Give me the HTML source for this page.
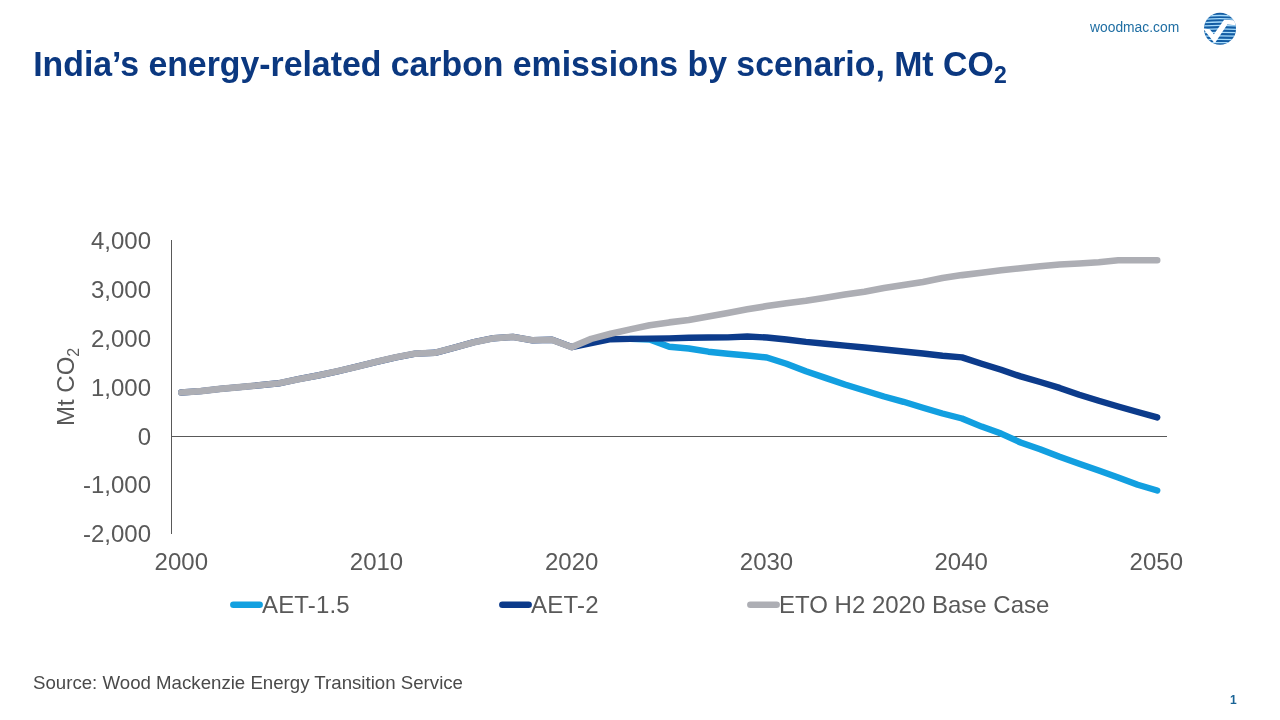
<!DOCTYPE html>
<html lang="en">
<head>
<meta charset="utf-8">
<title>India’s energy-related carbon emissions by scenario</title>
<style>
html,body{margin:0;padding:0;background:#fff;}
body{width:1280px;height:720px;overflow:hidden;position:relative;font-family:"Liberation Sans",Arial,sans-serif;}
svg{position:absolute;left:0;top:0;}
text{font-family:"Liberation Sans",Arial,sans-serif;}
.ax{font-size:24px;fill:#595959;}
.lg{font-size:24px;fill:#595959;}
</style>
</head>
<body>
<svg width="1280" height="720" viewBox="0 0 1280 720">
  <!-- header -->
  <text transform="translate(1090,31.8) scale(0.99,1.05)" font-size="14" fill="#1f6ea3">woodmac.com</text>
  <g id="logo">
    <defs>
      <clipPath id="lc"><circle cx="1220" cy="28.7" r="16"/></clipPath>
    </defs>
    <circle cx="1220" cy="28.7" r="16" fill="#125ca3"/>
    <g clip-path="url(#lc)" stroke="#a8dcfb" stroke-width="1.25" fill="none">
      <path d="M1200,16.6 Q1220,14.4 1240,16.6"/>
      <path d="M1200,19.9 Q1220,17.5 1240,19.9"/>
      <path d="M1200,23.1 Q1220,20.9 1240,23.1"/>
      <path d="M1200,26.3 Q1220,24.4 1240,26.3"/>
      <path d="M1200,29.6 Q1220,28.0 1240,29.6"/>
      <path d="M1200,32.9 Q1220,31.6 1240,32.9"/>
      <path d="M1200,36.3 Q1220,35.4 1240,36.3"/>
      <path d="M1200,39.6 Q1220,39.1 1240,39.6"/>
      <path d="M1200,42.7 Q1220,42.4 1240,42.7"/>
    </g>
    <path clip-path="url(#lc)" d="M1203,28.4 L1209.7,29.3 L1213.9,34.3 L1224.1,19.7 L1234.5,20.3 L1237,25.4 L1227.3,24.5 L1215.3,42.6 L1214,42.6 Z" fill="#fff"/>
  </g>
  <text transform="translate(33.2,75.8) scale(0.9395,1)" font-size="36" font-weight="bold" fill="#0b3880">India’s energy-related carbon emissions by scenario, Mt CO</text>
  <text x="994" y="82.9" font-size="23" font-weight="bold" fill="#0b3880">2</text>

  <!-- axes -->
  <line x1="171.5" y1="240" x2="171.5" y2="534" stroke="#595959" stroke-width="1"/>
  <line x1="171" y1="436.5" x2="1167" y2="436.5" stroke="#595959" stroke-width="1"/>

  <!-- y labels -->
  <g class="ax" text-anchor="end">
    <text x="151" y="248.9">4,000</text>
    <text x="151" y="297.8">3,000</text>
    <text x="151" y="346.7">2,000</text>
    <text x="151" y="395.6">1,000</text>
    <text x="151" y="444.5">0</text>
    <text x="151" y="493.4">-1,000</text>
    <text x="151" y="542.3">-2,000</text>
  </g>
  <text class="ax" transform="translate(74.2,426) rotate(-90)">Mt CO<tspan font-size="16" dy="5">2</tspan></text>

  <!-- x labels -->
  <g class="ax" text-anchor="middle">
    <text x="181.3" y="569.7">2000</text>
    <text x="376.5" y="569.7">2010</text>
    <text x="571.7" y="569.7">2020</text>
    <text x="766.5" y="569.7">2030</text>
    <text x="961.2" y="569.7">2040</text>
    <text x="1156.3" y="569.7">2050</text>
  </g>

  <!-- series -->
  <g fill="none" stroke-width="6.6" stroke-linecap="round" stroke-linejoin="round">
    <path stroke="#129fe0" stroke-width="6.4" d="M630.2,338.9 L649.7,339.5 L669.2,346.7 L688.8,348.5 L708.3,351.7 L727.8,353.8 L747.3,355.5 L766.8,357.5 L786.4,363.8 L805.9,371.2 L825.4,377.9 L844.9,384.5 L864.4,390.5 L884.0,396.5 L903.5,401.8 L923.0,407.8 L942.5,413.5 L962.0,418.5 L981.6,426.6 L1001.1,433.6 L1020.6,442.5 L1040.1,449.2 L1059.6,456.8 L1079.2,463.8 L1098.7,470.5 L1118.2,477.5 L1137.7,484.8 L1157.2,490.5"/>
    <path stroke="#0c3b8b" stroke-width="6.4" d="M181.3,392.5 L200.8,391.1 L220.3,388.9 L239.8,387.1 L259.3,385.3 L278.9,383.3 L298.4,379.2 L317.9,375.5 L337.4,371.3 L356.9,366.7 L376.5,361.8 L396.0,357.3 L415.5,353.6 L435.0,352.8 L454.5,347.6 L474.1,342.2 L493.6,338.2 L513.1,336.9 L532.6,340.3 L552.1,339.8 L571.7,347.1 L591.2,343.0 L610.7,339.2 L630.2,338.9 L649.7,338.6 L669.2,338.4 L688.8,337.8 L708.3,337.5 L727.8,337.4 L747.3,336.5 L766.8,337.5 L786.4,339.5 L805.9,341.9 L825.4,343.8 L844.9,345.6 L864.4,347.5 L884.0,349.5 L903.5,351.5 L923.0,353.5 L942.5,355.8 L962.0,357.4 L981.6,363.8 L1001.1,369.8 L1020.6,376.4 L1040.1,382.0 L1059.6,387.9 L1079.2,394.7 L1098.7,400.8 L1118.2,406.5 L1137.7,412.0 L1157.2,417.4"/>
    <path stroke="#adaeb4" d="M181.3,392.5 L200.8,391.1 L220.3,388.9 L239.8,387.1 L259.3,385.3 L278.9,383.3 L298.4,379.2 L317.9,375.5 L337.4,371.3 L356.9,366.7 L376.5,361.8 L396.0,357.3 L415.5,353.6 L435.0,352.8 L454.5,347.6 L474.1,342.2 L493.6,338.2 L513.1,336.9 L532.6,340.3 L552.1,339.8 L571.7,347.1 L591.2,338.9 L610.7,333.8 L630.2,329.4 L649.7,325.3 L669.2,322.4 L688.8,320.0 L708.3,316.6 L727.8,312.9 L747.3,309.3 L766.8,306.1 L786.4,303.3 L805.9,300.8 L825.4,297.8 L844.9,294.6 L864.4,291.8 L884.0,288.1 L903.5,285.0 L923.0,281.9 L942.5,278.1 L962.0,275.1 L981.6,272.8 L1001.1,270.3 L1020.6,268.2 L1040.1,266.3 L1059.6,264.5 L1079.2,263.5 L1098.7,262.2 L1118.2,260.3 L1137.7,260.3 L1157.2,260.3"/>
  </g>

  <!-- legend -->
  <g fill="none" stroke-width="6.6" stroke-linecap="round">
    <line x1="233.4" y1="604.7" x2="259.6" y2="604.7" stroke="#12a0e0"/>
    <line x1="502.4" y1="604.7" x2="528.6" y2="604.7" stroke="#0b3a8a"/>
    <line x1="750.4" y1="604.7" x2="776.6" y2="604.7" stroke="#adaeb4"/>
  </g>
  <g class="lg">
    <text x="262" y="612.7" letter-spacing="0.15">AET-1.5</text>
    <text x="531" y="612.7" letter-spacing="0.25">AET-2</text>
    <text x="779" y="612.7">ETO H2 2020 Base Case</text>
  </g>

  <!-- footer -->
  <text x="33" y="689" font-size="18.67" fill="#4a4a4a">Source: Wood Mackenzie Energy Transition Service</text>
  <text x="1230" y="704" font-size="12" font-weight="bold" fill="#1a6496">1</text>
</svg>
</body>
</html>
